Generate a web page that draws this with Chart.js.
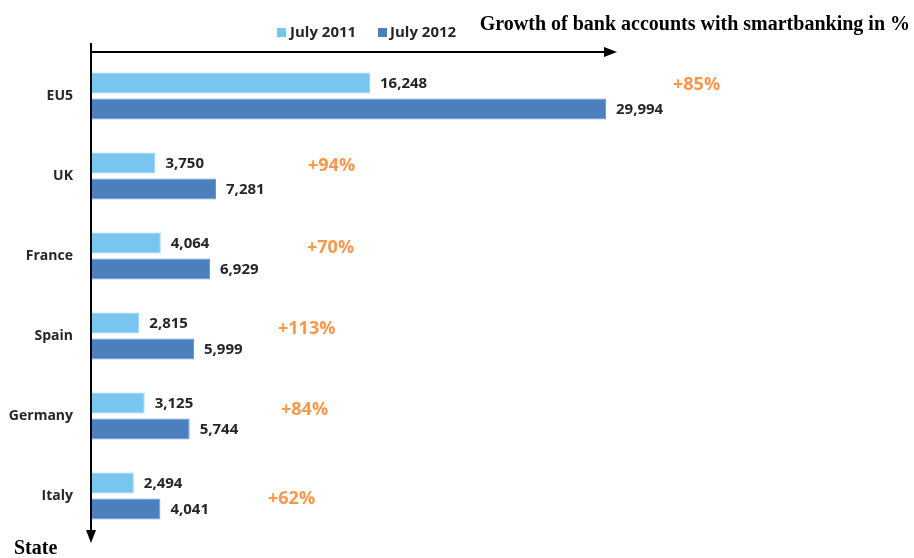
<!DOCTYPE html>
<html>
<head>
<meta charset="utf-8">
<style>
  html, body { margin: 0; padding: 0; background: #ffffff; }
  #wrap { width: 914px; height: 558px; position: relative; }
</style>
<script src="https://cdn.jsdelivr.net/npm/chart.js@4/dist/chart.umd.min.js"></script>
</head>
<body>
<div id="wrap"><canvas id="chart" width="914" height="558"></canvas></div>
<script>
// Smartbanking accounts by country (thousands)
const states = ['EU5', 'UK', 'France', 'Spain', 'Germany', 'Italy'];
const july2011 = [16248, 3750, 4064, 2815, 3125, 2494];
const july2012 = [29994, 7281, 6929, 5999, 5744, 4041];
const seriesNames = ['July 2011', 'July 2012'];

// Where each growth label sits: [x from the plot's left edge, y from the category centre]
const growthLabelPlacement = [[582, -11], [217, -10], [216, -8], [187, -7], [190, -6], [177, 3]];

const LIGHT = '#78c5f0';
const DARK = '#4c7fbd';
const ORANGE = '#f8984c';
const TEXT = '#262626';
const SANS = '"Open Sans", "Liberation Sans", sans-serif';
const SERIF = '"Liberation Serif", "DejaVu Serif", serif';

function growthText(i) {
  return '+' + Math.round((july2012[i] / july2011[i] - 1) * 100) + '%';
}

const decorations = {
  id: 'decorations',
  afterDatasetsDraw(chart) {
    const ctx = chart.ctx;
    const area = chart.chartArea;
    const yScale = chart.scales.y;
    ctx.save();

    // value labels at the end of each bar
    ctx.font = 'bold 15px ' + SANS;
    ctx.fillStyle = TEXT;
    ctx.textAlign = 'left';
    ctx.textBaseline = 'middle';
    chart.data.datasets.forEach((ds, di) => {
      chart.getDatasetMeta(di).data.forEach((bar, i) => {
        ctx.fillText(ds.data[i].toLocaleString('en-US'), bar.x + 10, bar.y + 1);
      });
    });

    // growth percentages
    ctx.font = 'bold 18px ' + SANS;
    ctx.fillStyle = ORANGE;
    states.forEach((s, i) => {
      const [dx, dy] = growthLabelPlacement[i];
      ctx.fillText(growthText(i), area.left + dx, yScale.getPixelForTick(i) + dy);
    });

    // axis arrows
    const ox = area.left;
    const axisY = 52;
    ctx.strokeStyle = '#000';
    ctx.fillStyle = '#000';
    ctx.lineWidth = 2;
    ctx.beginPath();
    ctx.moveTo(ox, axisY);
    ctx.lineTo(606, axisY);
    ctx.moveTo(ox, 43);
    ctx.lineTo(ox, 532);
    ctx.stroke();
    ctx.beginPath();
    ctx.moveTo(604, axisY - 5);
    ctx.lineTo(617, axisY);
    ctx.lineTo(604, axisY + 5);
    ctx.closePath();
    ctx.fill();
    ctx.beginPath();
    ctx.moveTo(ox - 5, 530);
    ctx.lineTo(ox, 543);
    ctx.lineTo(ox + 5, 530);
    ctx.closePath();
    ctx.fill();

    // legend
    ctx.font = 'bold 15px ' + SANS;
    ctx.fillStyle = LIGHT;
    ctx.fillRect(277, 28, 9, 9);
    ctx.fillStyle = DARK;
    ctx.fillRect(378, 28, 9, 9);
    ctx.fillStyle = TEXT;
    ctx.fillText(seriesNames[0], 290, 33);
    ctx.fillText(seriesNames[1], 390, 33);

    // title and axis name
    ctx.fillStyle = '#000';
    ctx.font = 'bold 20px ' + SERIF;
    ctx.textAlign = 'right';
    ctx.fillText('Growth of bank accounts with smartbanking in %', 910, 25);
    ctx.textAlign = 'left';
    ctx.fillText('State', 14, 549);
    ctx.restore();
  }
};

new Chart(document.getElementById('chart'), {
  type: 'bar',
  data: {
    labels: states,
    datasets: [
      { label: seriesNames[0], data: july2011, backgroundColor: LIGHT, borderColor: '#9ad5f5', borderWidth: 1 },
      { label: seriesNames[1], data: july2012, backgroundColor: DARK, borderColor: '#6d9ad0', borderWidth: 1 }
    ]
  },
  options: {
    indexAxis: 'y',
    responsive: false,
    animation: false,
    devicePixelRatio: 1,
    categoryPercentage: 0.65,
    barPercentage: 0.81,
    layout: { padding: { left: 0, top: 56, right: 222, bottom: 22 } },
    plugins: { legend: { display: false }, tooltip: { enabled: false } },
    scales: {
      x: { display: false, min: 0, max: 35000 },
      y: {
        grid: { display: false },
        border: { display: false },
        ticks: { color: TEXT, font: { family: SANS, weight: 'bold', size: 14 }, padding: 10 },
        afterFit(scale) { scale.width = 91; }
      }
    }
  },
  plugins: [decorations]
});
</script>
</body>
</html>
